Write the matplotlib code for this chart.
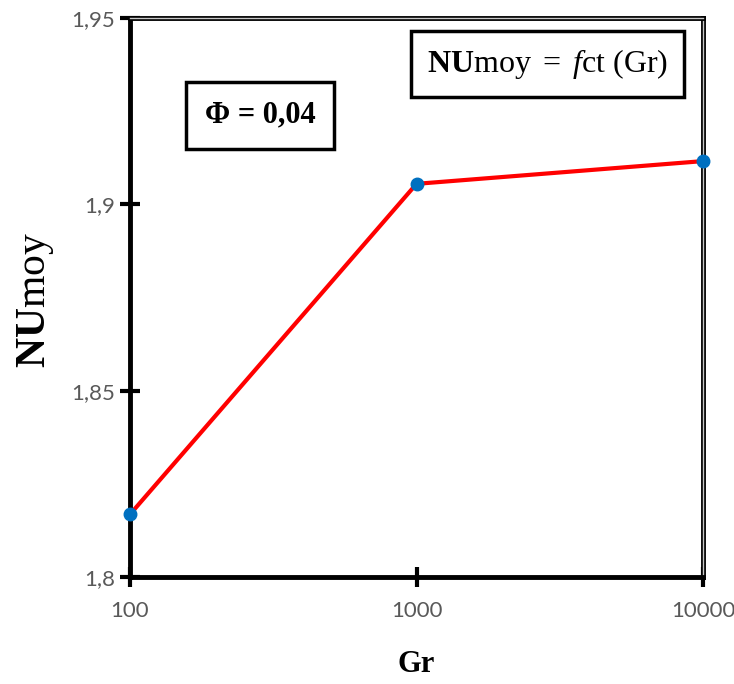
import matplotlib.pyplot as plt
import matplotlib.patheffects as pe

# NUmoy as a function of Gr, Phi = 0,04
gr = [100, 1000, 10000]
nu_moy = [1.8168, 1.9055, 1.9116]
y_ticks = [1.8, 1.85, 1.9, 1.95]
y_tick_labels = ['1,8', '1,85', '1,9', '1,95']
x_tick_labels = ['100', '1000', '10000']

plt.rcParams['mathtext.fontset'] = 'custom'
plt.rcParams['mathtext.rm'] = 'Liberation Serif'
plt.rcParams['mathtext.bf'] = 'Liberation Serif:bold'
plt.rcParams['mathtext.it'] = 'Liberation Serif:italic'

fig = plt.figure(figsize=(7.34, 6.84), dpi=100)
ax = fig.add_axes([130 / 734, 107 / 684, 573 / 734, 559 / 684])

ax.plot(gr, nu_moy, '-', color='#ff0000', lw=3, zorder=3)
ax.plot(gr, nu_moy, 'o', color='#0070c0', ms=9, zorder=4, clip_on=False)

ax.set_xscale('log')
ax.set_xlim(100, 10000)
ax.set_ylim(1.8, 1.95)
ax.set_xticks(gr)
ax.set_xticklabels(x_tick_labels)
ax.minorticks_off()
ax.set_yticks(y_ticks)
ax.set_yticklabels(y_tick_labels)

for lab in ax.get_xticklabels() + ax.get_yticklabels():
    lab.set_fontfamily('Lato')
    lab.set_fontsize(16)
    lab.set_color('#595959')
ax.tick_params(axis='both', direction='inout', length=14, width=3, color='black')
ax.tick_params(axis='x', pad=10)
ax.tick_params(axis='y', pad=4)

for side in ['left', 'bottom']:
    ax.spines[side].set_linewidth(3.5)
    ax.spines[side].set_color('black')
for side in ['top', 'right']:
    ax.spines[side].set_linewidth(1)
    ax.spines[side].set_color('#c8c8c8')
    ax.spines[side].set_path_effects([pe.Stroke(linewidth=3.5, foreground='black'), pe.Normal()])

ax.set_xlabel('Gr', fontfamily='Liberation Serif', fontweight='bold', fontsize=22)
ax.xaxis.set_label_coords(0.5, -0.157)
ax.xaxis.label.set_va('center')
ax.set_ylabel(r'$\mathbf{NU}\mathrm{moy}$', fontsize=30)
ax.yaxis.set_label_coords(-0.166, 0.495)
ax.yaxis.label.set_va('center')

ax.text(0.227, 0.826, 'Φ = 0,04', transform=ax.transAxes,
        fontfamily='Liberation Serif', fontweight='bold', fontsize=22,
        ha='center', va='center',
        bbox=dict(boxstyle='square,pad=0.62', facecolor='white', edgecolor='black', lw=2.5))
ax.text(0.728, 0.918, r'$\mathbf{NU}\mathrm{moy\ {=}\ }\mathit{f}\mathrm{ct\ (Gr)}$',
        transform=ax.transAxes, fontsize=23, ha='center', va='center',
        bbox=dict(boxstyle='square,pad=0.5', facecolor='white', edgecolor='black', lw=2.5))

fig.savefig('out.png', dpi=100)
